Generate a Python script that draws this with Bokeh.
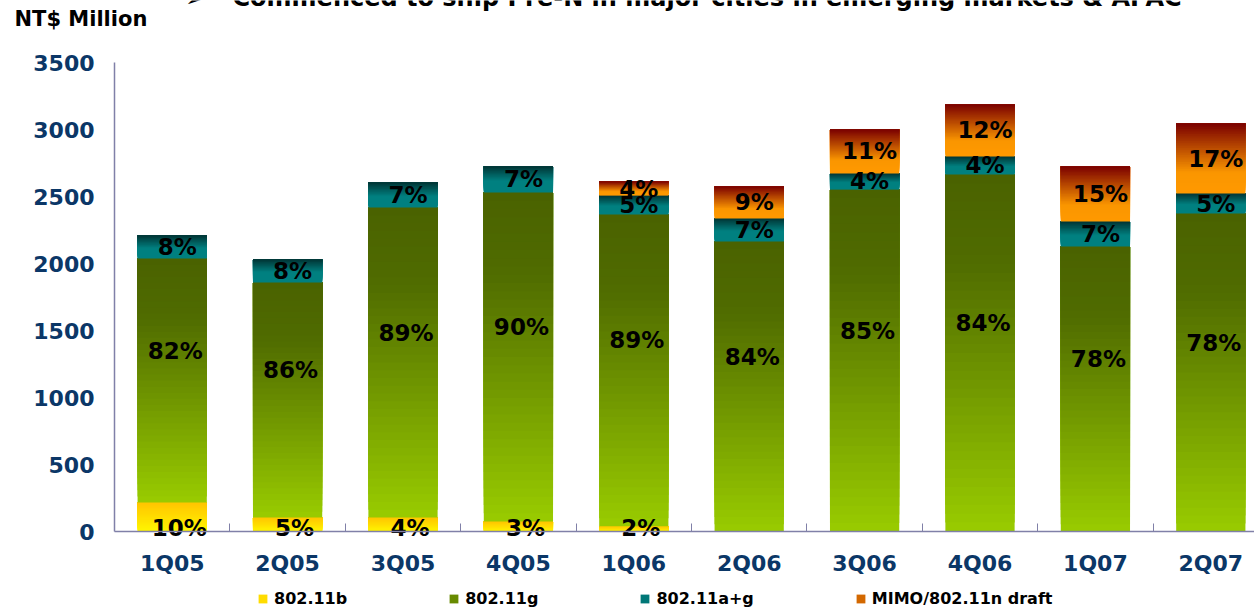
import numpy as np
from bokeh.plotting import figure
from bokeh.models import Range1d, FixedTicker, ColumnDataSource, Legend, LegendItem
from bokeh.core.properties import value
from bokeh.embed import file_html
from bokeh.resources import INLINE

# ---------------- data ----------------
quarters = ["1Q05", "2Q05", "3Q05", "4Q05", "1Q06", "2Q06", "3Q06", "4Q06", "1Q07", "2Q07"]
b_vals = [216, 104, 104, 75, 40, 0, 0, 0, 0, 0]
g_vals = [1821, 1754, 2314, 2455, 2326, 2164, 2552, 2664, 2127, 2373]
ag_vals = [172, 172, 186, 194, 141, 172, 120, 135, 186, 149]
mimo_vals = [0, 0, 0, 0, 105, 239, 328, 388, 411, 523]

b_labels = ["10%", "5%", "4%", "3%", "2%", "", "", "", "", ""]
g_labels = ["82%", "86%", "89%", "90%", "89%", "84%", "85%", "84%", "78%", "78%"]
ag_labels = ["8%", "8%", "7%", "7%", "5%", "7%", "4%", "4%", "7%", "5%"]
mimo_labels = ["", "", "", "", "4%", "9%", "11%", "12%", "15%", "17%"]

series_names = ["802.11b", "802.11g", "802.11a+g", "MIMO/802.11n draft"]
y_ticks = [0, 500, 1000, 1500, 2000, 2500, 3000, 3500]
unit_title = "NT$ Million"
headline = "Commenced to ship Pre-N in major cities in emerging markets & APAC"

# gradient stops (bottom -> top)
stops_b = [(0.0, "#FFF600"), (1.0, "#FFC400")]
stops_g = [(0.0, "#99CC00"), (0.75, "#506C00"), (1.0, "#4A6200")]
stops_ag = [(0.0, "#008080"), (0.45, "#008080"), (1.0, "#003535")]
stops_mimo = [(0.0, "#FF9900"), (0.3, "#FA9600"), (1.0, "#7A0000")]


def h2rgb(h):
    h = h.lstrip("#")
    return [int(h[i:i + 2], 16) for i in (0, 2, 4)]


def grad(stops, t):
    for (t0, c0), (t1, c1) in zip(stops[:-1], stops[1:]):
        if t <= t1:
            f = 0 if t1 == t0 else (t - t0) / (t1 - t0)
            a, b = h2rgb(c0), h2rgb(c1)
            c = [round(a[j] + (b[j] - a[j]) * f) for j in range(3)]
            return "#%02X%02X%02X" % tuple(c)
    return stops[-1][1]


# ---------------- layout geometry (pixels) ----------------
W, H = 1254, 610
X0_PX = 114          # where the value axis sits
CAT_PX = 115.4       # width of one category
Y0_PX = 531          # baseline (value 0)
Y_TOP_PX = 62        # value 3500
Y_MAX = 3500
KY = (Y0_PX - Y_TOP_PX) / Y_MAX   # px per unit
NS = 40
BAR_W = 0.6
FONT = "DejaVu Sans"


def px2x(px):
    return (px - X0_PX) / CAT_PX


def px2y(py):
    return (Y0_PX - py) / KY


p = figure(width=W, height=H,
           x_range=Range1d(px2x(0), px2x(W)), y_range=Range1d(px2y(H), px2y(0)),
           output_backend="svg", toolbar_location=None,
           min_border_left=0, min_border_right=0, min_border_top=0, min_border_bottom=0)
p.background_fill_color = "white"
p.border_fill_color = "white"
p.outline_line_color = None
p.xgrid.visible = False
p.ygrid.visible = False

xs = [i + 0.5 for i in range(len(quarters))]
base = np.zeros(len(quarters))
all_series = [b_vals, g_vals, ag_vals, mimo_vals]
all_stops = [stops_b, stops_g, stops_ag, stops_mimo]
legend_items = []
seg_bounds = []
for name, vals, stops in zip(series_names, all_series, all_stops):
    vals = np.array(vals, dtype=float)
    bot = base.copy()
    top = base + vals
    base = top
    seg_bounds.append((bot, top))
    d = dict(x=[], bottom=[], top=[], color=[])
    mid_idx = None
    for k in range(NS):
        for i in range(len(vals)):
            if vals[i] <= 0:
                continue
            if k == NS // 2 and mid_idx is None:
                mid_idx = len(d["x"])
            d["x"].append(xs[i])
            d["bottom"].append(bot[i] + k * vals[i] / NS)
            d["top"].append(top[i])
            d["color"].append(grad(stops, (k + 0.5) / NS))
    r = p.vbar(x="x", bottom="bottom", top="top", width=BAR_W, fill_color="color",
               line_color=None, source=ColumnDataSource(d))
    legend_items.append(LegendItem(label=name, renderers=[r], index=mid_idx))

# ---------------- percent labels ----------------


def add_labels(xv, yv, texts, **kw):
    keep = [j for j, t in enumerate(texts) if t]
    src = ColumnDataSource(dict(x=[xv[j] for j in keep], y=[yv[j] for j in keep],
                                t=[texts[j] for j in keep]))
    p.text(x="x", y="y", text="t", source=src, text_font=value(FONT), text_font_style="bold",
           text_font_size="23px", text_color="black", text_align="center", **kw)


(bb, bt), (gb, gt), (ab, at), (mb, mt) = seg_bounds
add_labels(xs, [0] * len(xs), b_labels, text_baseline="alphabetic", x_offset=7, y_offset=-4)
add_labels(xs, list((gb + gt) / 2), g_labels, text_baseline="middle", x_offset=3, y_offset=-30)
add_labels(xs, list((ab + at) / 2), ag_labels, text_baseline="middle", x_offset=5)
add_labels(xs, list((mb + mt) / 2), mimo_labels, text_baseline="middle", x_offset=5)

# ---------------- header texts ----------------
p.text(x=[px2x(14)], y=[px2y(18)], text=[unit_title], text_font=value(FONT),
       text_font_style="bold", text_font_size="21px", text_color="black",
       text_baseline="middle", text_align="left")
p.text(x=[px2x(185)], y=[px2y(-2)], text=["➢"], text_font=value(FONT),
       text_font_style="bold", text_font_size="20px", text_color="black",
       text_baseline="alphabetic", text_align="left")
p.text(x=[px2x(232)], y=[px2y(-3)], text=[headline], text_font=value(FONT),
       text_font_style="bold", text_font_size="24px", text_color="black",
       text_baseline="alphabetic", text_align="left")

# ---------------- axes ----------------
axis_col = "#8080A8"
tick_col = "#0B3767"
p.yaxis.fixed_location = 0
p.yaxis.bounds = (0, Y_MAX)
p.yaxis.ticker = FixedTicker(ticks=y_ticks)
p.yaxis.major_tick_in = 8
p.yaxis.major_tick_out = 0
p.yaxis.minor_tick_line_color = None
p.yaxis.major_label_standoff = 20

p.xaxis.fixed_location = 0
p.xaxis.bounds = (0, px2x(W))
p.xaxis.ticker = FixedTicker(ticks=xs, minor_ticks=list(range(1, len(quarters))))
p.xaxis.major_label_overrides = {x: q for x, q in zip(xs, quarters)}
p.xaxis.major_tick_in = 0
p.xaxis.major_tick_out = 0
p.xaxis.minor_tick_in = 8
p.xaxis.minor_tick_out = 0
p.xaxis.minor_tick_line_color = axis_col
p.xaxis.major_label_standoff = 19

for ax in (p.xaxis, p.yaxis):
    ax.axis_line_color = axis_col
    ax.axis_line_width = 1.5
    ax.major_tick_line_color = axis_col if ax is p.yaxis else None
    ax.major_label_text_font = FONT
    ax.major_label_text_font_style = "bold"
    ax.major_label_text_font_size = "22px"
    ax.major_label_text_color = tick_col

# ---------------- legend ----------------
legend = Legend(items=legend_items, orientation="horizontal", location=(257, 2),
                glyph_width=11, glyph_height=11, label_standoff=6, spacing=101,
                padding=0, margin=0, border_line_color=None, background_fill_alpha=0,
                label_text_font=FONT, label_text_font_style="bold",
                label_text_font_size="16px", label_text_color="black", label_height=20)
p.add_layout(legend, "center")

open("out.html", "w").write(file_html(p, INLINE))
